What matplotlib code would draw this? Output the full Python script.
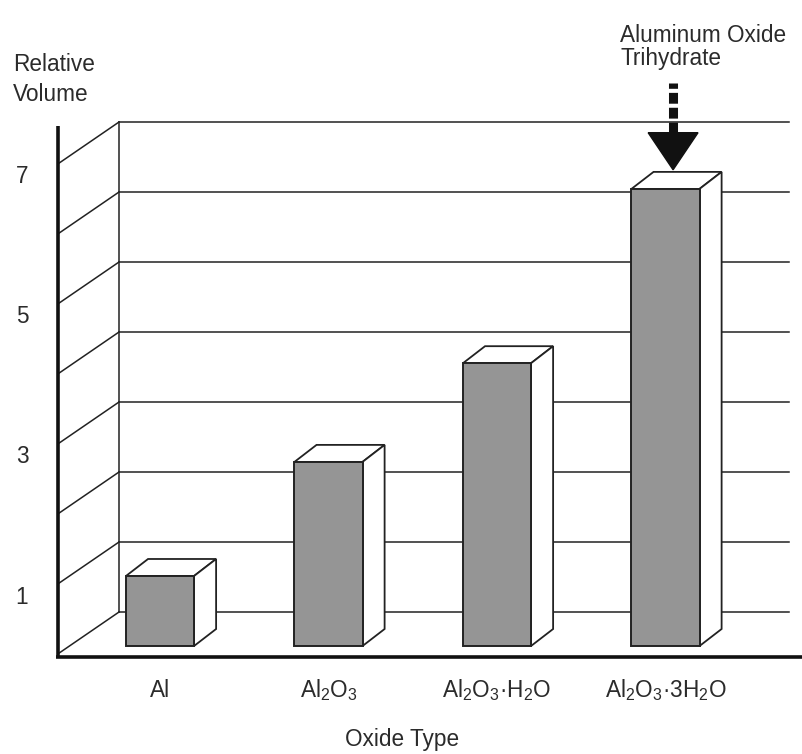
import matplotlib.pyplot as plt
import numpy as np

plt.rcParams['font.family'] = ['Liberation Sans', 'DejaVu Sans']
plt.rcParams['mathtext.fontset'] = 'custom'
plt.rcParams['mathtext.rm'] = 'Liberation Sans'
plt.rcParams['mathtext.it'] = 'Liberation Sans:italic'
plt.rcParams['mathtext.bf'] = 'Liberation Sans:bold'

# data
categories = ['Al', r'Al$_2$O$_3$', r'Al$_2$O$_3$·H$_2$O', r'Al$_2$O$_3$·3H$_2$O']
values = [1.0, 2.63, 4.04, 6.53]
tick_levels = [1, 3, 5, 7]
n_grid = 7

ink = '#222222'
text_col = '#2b2b2b'
bar_col = '#959595'
fs = 16.3

fig = plt.figure(figsize=(8.03, 7.54), dpi=100)
ax = fig.add_axes([0, 0, 1, 1])
ux, uy = 168.5, 70.0          # pixels per category / per unit of volume
ax.set_xlim(-160 / ux, 643 / ux)
ax.set_ylim(-108 / uy, 646 / uy)
ax.axis('off')

# pseudo-3d box: front axis, back wall, left side wall
front_x, back_x, wall_right = -0.598, -0.243, 3.733
floor_front, floor_back = -0.1, 0.486

for k in range(n_grid + 1):
    ax.plot([back_x, wall_right], [floor_back + k] * 2, color=ink, lw=1.1, zorder=1)
    ax.plot([front_x, back_x], [floor_front + k, floor_back + k], color=ink, lw=1.1, zorder=1)
ax.plot([back_x, back_x], [floor_back, floor_back + n_grid], color=ink, lw=1.1, zorder=1)

ax.plot([front_x - 0.01] * 2, [-0.17, 7.43], color='#111111', lw=2.6, zorder=4,
        solid_capstyle='butt')
ax.plot([front_x - 0.02, ax.get_xlim()[1]], [-0.157] * 2, color='#111111', lw=2.6, zorder=4,
        solid_capstyle='butt')

# tick labels on the front axis
for t in tick_levels:
    ax.text(-0.819, floor_front + t - 0.2, str(t), fontsize=fs, color=text_col,
            ha='center', va='center')

# bars
x = np.arange(len(values))
width = 0.404
ddx, ddy = 0.131, 0.243
ax.bar(x, values, width=width, color=bar_col, edgecolor=ink, linewidth=1.4, zorder=3)
for xi, v in zip(x, values):
    x0, x1 = xi - width / 2, xi + width / 2
    ax.fill([x0, x1, x1 + ddx, x0 + ddx], [v, v, v + ddy, v + ddy],
            facecolor='white', edgecolor=ink, linewidth=1.3, zorder=2.9)
    ax.fill([x1, x1 + ddx, x1 + ddx, x1], [0, ddy, v + ddy, v],
            facecolor='white', edgecolor=ink, linewidth=1.3, zorder=2.9)

# category labels and axis titles
for xi, lab in zip(x, categories):
    ax.text(xi, -0.729, lab, fontsize=fs, color=text_col, ha='center', va='baseline')

ax.text(1.436, -1.43, 'Oxide Type', fontsize=fs, color=text_col, ha='center', va='baseline')
ax.text(-0.872, 8.22, 'Relative', fontsize=fs, color=text_col, ha='left', va='baseline')
ax.text(-0.872, 7.79, 'Volume', fontsize=fs, color=text_col, ha='left', va='baseline')

# callout for the trihydrate bar
ax.text(2.73, 8.63, 'Aluminum Oxide', fontsize=fs, color=text_col, ha='left', va='baseline')
ax.text(2.73, 8.30, 'Trihydrate', fontsize=fs, color=text_col, ha='left', va='baseline')

arrow_x = x[3] + 0.045
tip = values[3] + ddy + 0.03
head_len, head_half = 0.53, 0.148
ax.plot([arrow_x, arrow_x], [tip + head_len, tip + head_len + 0.71], color='#111111',
        lw=6.5, dashes=(1.2, 0.45), dash_capstyle='butt', zorder=5)
ax.fill([arrow_x - head_half, arrow_x + head_half, arrow_x],
        [tip + head_len, tip + head_len, tip], color='#111111', zorder=5)

fig.savefig('out.png', dpi=100, facecolor='white')
